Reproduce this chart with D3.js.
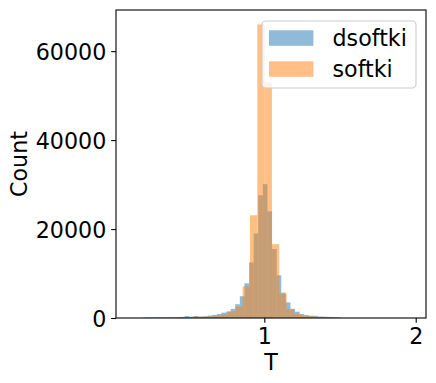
<!DOCTYPE html>
<html>
<head>
<meta charset="utf-8">
<script src="https://cdn.jsdelivr.net/npm/d3@7"></script>
<style>
  body { margin: 0; background: #fff; }
  svg { display: block; }
  text { font-family: "DejaVu Sans", sans-serif; fill: #000; }
</style>
</head>
<body>
<svg id="chart" width="436" height="383"></svg>
<script>
// ---- data ----
const seriesNames = ["dsoftki", "softki"];
const seriesColors = ["#1f77b4", "#ff7f0e"];

// dsoftki histogram: regular bins starting at blueStart, width blueWidth
const blueStart = 0.2;
const blueWidth = 0.0304;
const blueCounts = [120, 150, 130, 160, 140, 170, 160, 180,
  250, 450, 300, 450, 330, 380, 550, 700, 900, 1200, 1450, 2050, 3100, 4900, 7800, 12500, 19000, 27600,
  30100,
  24000, 15500, 9600, 5700, 3500, 2050, 1420, 900, 670, 520, 480, 350, 300, 250, 200, 150];

// softki histogram
const orangeStart = 0.3742;
const orangeWidth = 0.0483;
const orangeCounts = [120, 180, 200, 300, 300, 350, 500, 800, 1500, 2600, 7100, 23100,
  66000, 53000,
  16600, 5400, 2000, 900, 450, 400, 150, 120, 100];

const xTicks = [1, 2];
const yTicks = [0, 20000, 40000, 60000];
const xDomain = [0.0205, 2.068];
const yDomain = [0, 69250];

// ---- layout ----
const svg = d3.select("#chart");
const L = 116, R = 426, T = 10, B = 318;
const x = d3.scaleLinear().domain(xDomain).range([L, R]);
const y = d3.scaleLinear().domain(yDomain).range([B, T]);

function toBins(start, width, counts) {
  return counts.map((c, i) => ({ x0: start + i * width, x1: start + (i + 1) * width, c }));
}
const series = [
  toBins(blueStart, blueWidth, blueCounts),
  toBins(orangeStart, orangeWidth, orangeCounts)
];

const clip = svg.append("defs").append("clipPath").attr("id", "clip")
  .append("rect").attr("x", L).attr("y", T).attr("width", R - L).attr("height", B - T);

const plot = svg.append("g").attr("clip-path", "url(#clip)");
series.forEach((bins, si) => {
  plot.append("g")
    .selectAll("rect").data(bins).enter().append("rect")
    .attr("x", d => x(d.x0))
    .attr("width", d => x(d.x1) - x(d.x0))
    .attr("y", d => y(d.c))
    .attr("height", d => y(0) - y(d.c))
    .attr("fill", seriesColors[si])
    .attr("fill-opacity", 0.5);
});

// axes
const tickLen = 4.86, fs = 22.2;
const xAxis = d3.axisBottom(x).tickValues(xTicks).tickFormat(d3.format("d")).tickSize(tickLen).tickPadding(4.86);
const yAxis = d3.axisLeft(y).tickValues(yTicks).tickFormat(d3.format("d")).tickSize(tickLen).tickPadding(4.86);

const gx = svg.append("g").attr("transform", `translate(0,${B})`).call(xAxis);
const gy = svg.append("g").attr("transform", `translate(${L},0)`).call(yAxis);
[gx, gy].forEach(g => {
  g.select(".domain").remove();
  g.selectAll(".tick line").attr("stroke", "#000").attr("stroke-width", 1.1);
  g.selectAll(".tick text").attr("font-size", fs).attr("font-family", "DejaVu Sans").attr("fill", "#000");
});
gy.selectAll(".tick text").attr("dy", "0.36em");
gx.selectAll(".tick text").attr("dy", "0.73em");

// spines
svg.append("rect").attr("x", L).attr("y", T).attr("width", R - L).attr("height", B - T)
  .attr("fill", "none").attr("stroke", "#000").attr("stroke-width", 1.1);

// axis labels
svg.append("text").attr("x", (L + R) / 2).attr("y", 370).attr("text-anchor", "middle")
  .attr("font-size", fs).text("T");
svg.append("text").attr("transform", `translate(27,${(T + B) / 2}) rotate(-90)`)
  .attr("text-anchor", "middle").attr("font-size", fs).text("Count");

// legend
const lg = svg.append("g");
lg.append("rect").attr("x", 262).attr("y", 21).attr("width", 154).attr("height", 67)
  .attr("rx", 4).attr("fill", "#fff").attr("fill-opacity", 0.8)
  .attr("stroke", "#cccccc").attr("stroke-width", 1.1);
seriesNames.forEach((name, i) => {
  const cy = 38 + i * 31;
  lg.append("rect").attr("x", 269).attr("y", cy - 7.7).attr("width", 44.4).attr("height", 15.5)
    .attr("fill", seriesColors[i]).attr("fill-opacity", 0.5);
  lg.append("text").attr("x", 332.5).attr("y", cy + 8).attr("font-size", fs).text(name);
});
</script>
</body>
</html>
